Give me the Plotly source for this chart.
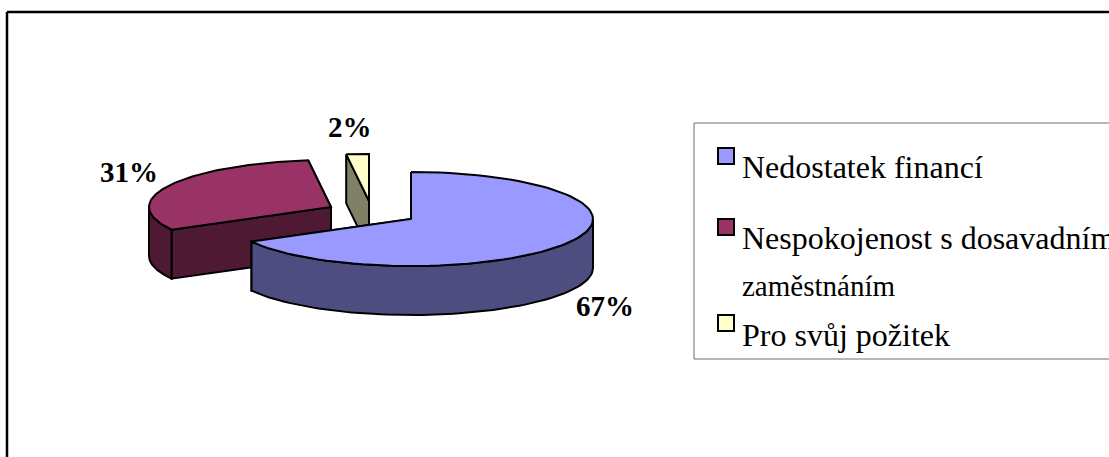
# -*- coding: utf-8 -*-
import numpy as np
import plotly.graph_objects as go

# Data
categories = ['Nedostatek financí', 'Nespokojenost s dosavadním', 'Pro svůj požitek']
values = [67, 31, 2]
top_colors = ['#9999FF', '#993366', '#FFFFCC']
side_colors = ['#4D4D80', '#4D1933', '#808066']

# Pie geometry in pixels, y goes down
CX, CY = 411, 219
RX, RY = 182, 47
DEPTH = 49
explode = [(0, 0), (-80, -12), (-42, -18)]

W, H = 1109, 457
fig = go.Figure()


def rim(start, end, dx, dy, n=80):
    a = np.radians(np.linspace(start, end, n))
    return CX + dx + RX * np.sin(a), CY + dy - RY * np.cos(a)


def poly(xs, ys, color):
    fig.add_trace(go.Scatter(x=np.append(xs, xs[0]), y=np.append(ys, ys[0]),
                             mode='lines', fill='toself', fillcolor=color,
                             line=dict(color='black', width=2),
                             hoverinfo='skip', showlegend=False))


def cut_face(angle, dx, dy, color):
    ex, ey = rim(angle, angle, dx, dy, n=1)
    ax, ay = CX + dx, CY + dy
    poly(np.array([ax, ex[0], ex[0], ax]),
         np.array([ay, ey[0], ey[0] + DEPTH, ay + DEPTH]), color)


# Angles clockwise from 12 o'clock
ends = np.cumsum(values) / sum(values) * 360
starts = ends - np.array(values) / sum(values) * 360

# back slices first so the big one sits in front
for i in [2, 1, 0]:
    dx, dy = explode[i]
    cut_face(ends[i], dx, dy, side_colors[i])
    cut_face(starts[i], dx, dy, side_colors[i])
    front0, front1 = max(starts[i], 90), min(ends[i], 270)
    if front1 > front0:
        xs, ys = rim(front0, front1, dx, dy)
        poly(np.concatenate([xs, xs[::-1]]),
             np.concatenate([ys, ys[::-1] + DEPTH]), side_colors[i])
    xs, ys = rim(starts[i], ends[i], dx, dy)
    poly(np.append(xs, CX + dx), np.append(ys, CY + dy), top_colors[i])

# Frame, cut off by the right and bottom edges
frame = dict(type='line', line=dict(color='black', width=2.5))
fig.add_shape(x0=7, y0=12, x1=W, y1=12, **frame)
fig.add_shape(x0=7, y0=12, x1=7, y1=H, **frame)

# Legend box
gray = dict(type='line', line=dict(color='#6E6E6E', width=1))
fig.add_shape(x0=694, y0=123, x1=W, y1=123, **gray)
fig.add_shape(x0=694, y0=359, x1=W, y1=359, **gray)
fig.add_shape(x0=694, y0=123, x1=694, y1=359, **gray)

swatch_y = [148, 219, 315]
for y, c in zip(swatch_y, top_colors):
    fig.add_shape(type='rect', x0=718, x1=734, y0=y, y1=y + 16, fillcolor=c,
                  line=dict(color='black', width=2))


def label(x, y, text, size, bold=False, anchor='left'):
    fig.add_annotation(x=x, y=y, text='<b>%s</b>' % text if bold else text,
                       showarrow=False, xanchor=anchor, yanchor='middle',
                       font=dict(family='Liberation Serif', size=size, color='black'))


label(740, 167, categories[0], 32)
label(740, 238, categories[1], 32)
label(740, 286, 'zaměstnáním', 29)
label(740, 335, categories[2], 32)

label_pos = [(605, 306), (129, 172), (350, 127)]
for v, (x, y) in zip(values, label_pos):
    label(x, y, '%d%%' % v, 29, bold=True, anchor='center')

fig.update_layout(width=W, height=H, margin=dict(l=0, r=0, t=0, b=0),
                  paper_bgcolor='white', plot_bgcolor='white',
                  xaxis=dict(range=[0, W], visible=False),
                  yaxis=dict(range=[H, 0], visible=False))
fig.write_html("out.html", config=dict(displayModeBar=False),
               post_script="document.body.style.margin='0';document.body.style.overflow='hidden';")
